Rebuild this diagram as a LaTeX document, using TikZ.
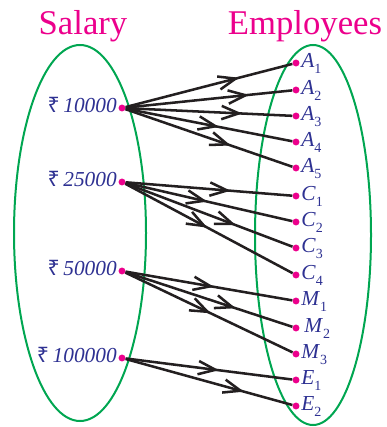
\documentclass[tikz,border=0pt]{standalone}
\usepackage{fontspec}
\setmainfont{Liberation Serif}
\newfontfamily\rupeefont{Noto Sans}
\usetikzlibrary{arrows.meta, decorations.markings}
\definecolor{salpink}{RGB}{236,0,140}
\definecolor{setgreen}{RGB}{0,166,81}
\definecolor{lblblue}{RGB}{46,49,146}
\definecolor{linkgray}{RGB}{35,31,32}
\newcommand{\rs}[1]{{\rupeefont ₹}\,\textit{#1}}
\newcommand{\empname}[2]{\textit{#1}\raisebox{-0.3em}{\fontsize{10.5}{12}\selectfont #2}}

\begin{document}
\begin{tikzpicture}[
    x=0.75pt, y=-0.75pt,
    title/.style={text=salpink, font=\fontsize{26}{30}\selectfont, anchor=base, inner sep=0pt},
    setring/.style={draw=setgreen, line width=1.5pt},
    dot/.style={circle, fill=salpink, inner sep=0pt, minimum size=5.2pt},
    lbl/.style={text=lblblue, font=\fontsize{16}{19}\selectfont, text height=0.66em,
                text depth=0pt, inner sep=1pt},
    link/.style={draw=linkgray, line width=1.9pt, postaction={decorate},
                 decoration={markings, mark=at position #1 with
                 {\arrow{Straight Barb[length=13pt, width=10pt]}}}}
]
    \useasboundingbox (0,0) rectangle (386,427);

    % the two sets
    \draw[setring] (80,233) ellipse [x radius=66, y radius=188];
    \draw[setring] (313,235) ellipse [x radius=58, y radius=190];
    \node[title] (saltitle) at (83,35) {Salary};
    \node[title] (emptitle) at (305,35) {Employees};

    % salaries
    \foreach \nm/\amt/\yy in {s1/10000/108, s2/25000/182, s3/50000/271, s4/100000/358}
        \node[dot, label distance=6pt, label={[lbl]left:\rs{\amt}}] (\nm) at (122,\yy) {};

    % employees
    \foreach \nm/\ltr/\sub/\yy/\dx in {a1/A/1/63/0, a2/A/2/90/0, a3/A/3/116/0, a4/A/4/142/0,
            a5/A/5/168/0, c1/C/1/196/0, c2/C/2/222/0, c3/C/3/248/0, c4/C/4/275/0,
            m1/M/1/301/0, m2/M/2/328/3, m3/M/3/354/0, e1/E/1/380/0, e2/E/2/406/0}
        \node[dot, label distance=0.5pt,
              label={[lbl, xshift=\dx*0.75pt]right:\empname{\ltr}{\sub}}] (\nm) at (296,\yy) {};

    % salary -> employee
    \foreach \tgt/\pos in {a1/0.68, a2/0.74, a3/0.70, a4/0.56, a5/0.63}
        \draw[link=\pos] (s1) -- (\tgt);
    \foreach \tgt/\pos in {c1/0.63, c2/0.49, c3/0.66, c4/0.49}
        \draw[link=\pos] (s2) -- (\tgt);
    \foreach \tgt/\pos in {m1/0.53, m2/0.66, m3/0.51}
        \draw[link=\pos] (s3) -- (\tgt);
    \foreach \tgt/\pos in {e1/0.56, e2/0.71}
        \draw[link=\pos] (s4) -- (\tgt);
\end{tikzpicture}
\end{document}
